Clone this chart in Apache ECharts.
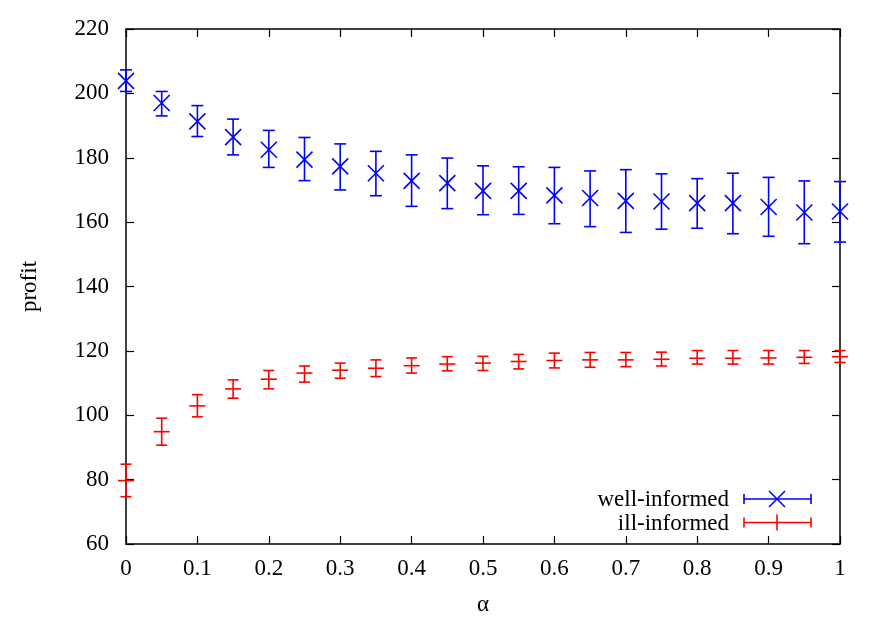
<!DOCTYPE html>
<html><head><meta charset="utf-8">
<script src="https://cdn.jsdelivr.net/npm/echarts@6/dist/echarts.min.js"></script>
<style>html,body{margin:0;padding:0;background:#fff}#c{width:882px;height:617px}</style>
</head><body><div id="c"></div>
<script>
const alpha = [0,0.05,0.1,0.15,0.2,0.25,0.3,0.35,0.4,0.45,0.5,0.55,0.6,0.65,0.7,0.75,0.8,0.85,0.9,0.95,1];
const wellMean = [203.9,197.0,191.3,186.4,182.5,179.4,177.3,175.2,172.8,172.1,169.7,169.7,168.3,167.5,166.6,166.4,165.9,165.9,164.7,163.0,163.3];
const wellLow  = [200.6,193.0,186.6,180.9,177.0,172.9,170.0,168.2,164.9,164.2,162.3,162.4,159.5,158.6,156.8,157.8,158.1,156.4,155.6,153.3,153.8];
const wellHigh = [207.3,200.6,196.2,192.0,188.5,186.3,184.3,182.0,180.9,179.9,177.5,177.2,177.0,175.9,176.3,175.0,173.5,175.2,173.9,172.8,172.6];
const illMean = [79.7,94.9,102.9,108.2,111.2,113.1,114.0,114.6,115.4,115.9,116.2,116.7,117.0,117.2,117.2,117.4,117.7,117.7,117.8,118.0,118.2];
const illLow  = [74.7,90.7,99.5,105.3,108.2,110.3,111.5,112.0,113.1,113.8,113.9,114.4,114.7,114.9,115.1,115.3,115.9,115.9,115.9,116.1,116.4];
const illHigh = [84.8,99.1,106.4,111.0,113.9,115.3,116.2,117.2,117.8,118.2,118.3,118.9,119.3,119.5,119.5,119.6,120.1,120.1,120.1,120.1,120.1];
const seriesNames = ['well-informed','ill-informed'];
const xTicks = [0,0.1,0.2,0.3,0.4,0.5,0.6,0.7,0.8,0.9,1];
const yTicks = [60,80,100,120,140,160,180,200,220];

const BLUE = '#0000ff', RED = '#ff0000';
const FONT = 'Liberation Serif';

function mkData(m, lo, hi){ return alpha.map((a,i)=>[a,m[i],lo[i],hi[i]]); }

function renderer(color, marker){
  return function(params, api){
    const x = api.value(0);
    const c = api.coord([x, api.value(1)]);
    const lo = api.coord([x, api.value(2)]);
    const hi = api.coord([x, api.value(3)]);
    const cap = marker === 'x' ? 6 : 5.5;
    const st = {stroke: color, lineWidth: 1.6, fill: null};
    const ch = [
      {type:'line', shape:{x1:c[0],y1:lo[1],x2:c[0],y2:hi[1]}, style:st},
      {type:'line', shape:{x1:c[0]-cap,y1:lo[1],x2:c[0]+cap,y2:lo[1]}, style:st},
      {type:'line', shape:{x1:c[0]-cap,y1:hi[1],x2:c[0]+cap,y2:hi[1]}, style:st}
    ];
    const s = 8;
    if (marker === 'x') {
      ch.push({type:'line', shape:{x1:c[0]-s,y1:c[1]-s,x2:c[0]+s,y2:c[1]+s}, style:st});
      ch.push({type:'line', shape:{x1:c[0]-s,y1:c[1]+s,x2:c[0]+s,y2:c[1]-s}, style:st});
    } else {
      ch.push({type:'line', shape:{x1:c[0]-s,y1:c[1],x2:c[0]+s,y2:c[1]}, style:st});
    }
    return {type:'group', children: ch};
  };
}

const axisCommon = {
  axisLine:{show:true, onZero:false, lineStyle:{color:'#000', width:1.5}},
  axisTick:{show:true, inside:true, length:8, lineStyle:{color:'#000', width:1.2}},
  splitLine:{show:false}
};

const chart = echarts.init(document.getElementById('c'), null, {renderer:'canvas'});
const L = 126, R = 840, T = 29, B = 544;

function legendItem(y, label, color, marker){
  const st = {stroke: color, lineWidth: 1.6, fill: null};
  const x1 = 744, x2 = 811, xm = 777;
  const items = [
    {type:'text', x: 729, y: y+1, style:{text:label, font:'23px "Liberation Serif"', fill:'#000', align:'right', verticalAlign:'middle'}},
    {type:'line', shape:{x1:x1,y1:y,x2:x2,y2:y}, style:st},
    {type:'line', shape:{x1:x1,y1:y-5,x2:x1,y2:y+5}, style:st},
    {type:'line', shape:{x1:x2,y1:y-5,x2:x2,y2:y+5}, style:st}
  ];
  if (marker === 'x') {
    items.push({type:'line', shape:{x1:xm-8,y1:y-8,x2:xm+8,y2:y+8}, style:st});
    items.push({type:'line', shape:{x1:xm-8,y1:y+8,x2:xm+8,y2:y-8}, style:st});
  } else {
    items.push({type:'line', shape:{x1:xm,y1:y-8,x2:xm,y2:y+8}, style:st});
  }
  return items;
}

chart.setOption({
  animation:false,
  backgroundColor:'#fff',
  grid:{left:L, right:882-R, top:T, bottom:617-B, containLabel:false, outerBoundsMode:'none'},
  xAxis:[
    Object.assign({type:'value', min:0, max:1, interval:0.1, position:'bottom',
      name:'α', nameLocation:'middle', nameGap:49,
      nameTextStyle:{fontFamily:FONT, fontSize:23, color:'#000'},
      axisLabel:{fontFamily:FONT, fontSize:23, color:'#000', margin:13,
        formatter:v=>{ const t = xTicks.find(k=>Math.abs(k-v)<1e-9); return t===undefined?'':String(t);} }
    }, axisCommon),
    Object.assign({type:'value', min:0, max:1, interval:0.1, position:'top', axisLabel:{show:false}}, axisCommon)
  ],
  yAxis:[
    Object.assign({type:'value', min:60, max:220, interval:20, position:'left',
      name:'profit', nameLocation:'middle', nameGap:85, nameRotate:90,
      nameTextStyle:{fontFamily:FONT, fontSize:23, color:'#000'},
      axisLabel:{fontFamily:FONT, fontSize:23, color:'#000', margin:17,
        formatter:v=>yTicks.includes(v)?String(v):''}
    }, axisCommon),
    Object.assign({type:'value', min:60, max:220, interval:20, position:'right', axisLabel:{show:false}}, axisCommon)
  ],
  series:[
    {name:seriesNames[0], type:'custom', xAxisIndex:0, yAxisIndex:0,
     renderItem:renderer(BLUE,'x'), encode:{x:0, y:[1,2,3]}, data:mkData(wellMean,wellLow,wellHigh), clip:false, z:3},
    {name:seriesNames[1], type:'custom', xAxisIndex:0, yAxisIndex:0,
     renderItem:renderer(RED,'+'), encode:{x:0, y:[1,2,3]}, data:mkData(illMean,illLow,illHigh), clip:false, z:3}
  ],
  graphic: [].concat(legendItem(499, seriesNames[0], BLUE, 'x'), legendItem(522.5, seriesNames[1], RED, '+'))
});
</script></body></html>
